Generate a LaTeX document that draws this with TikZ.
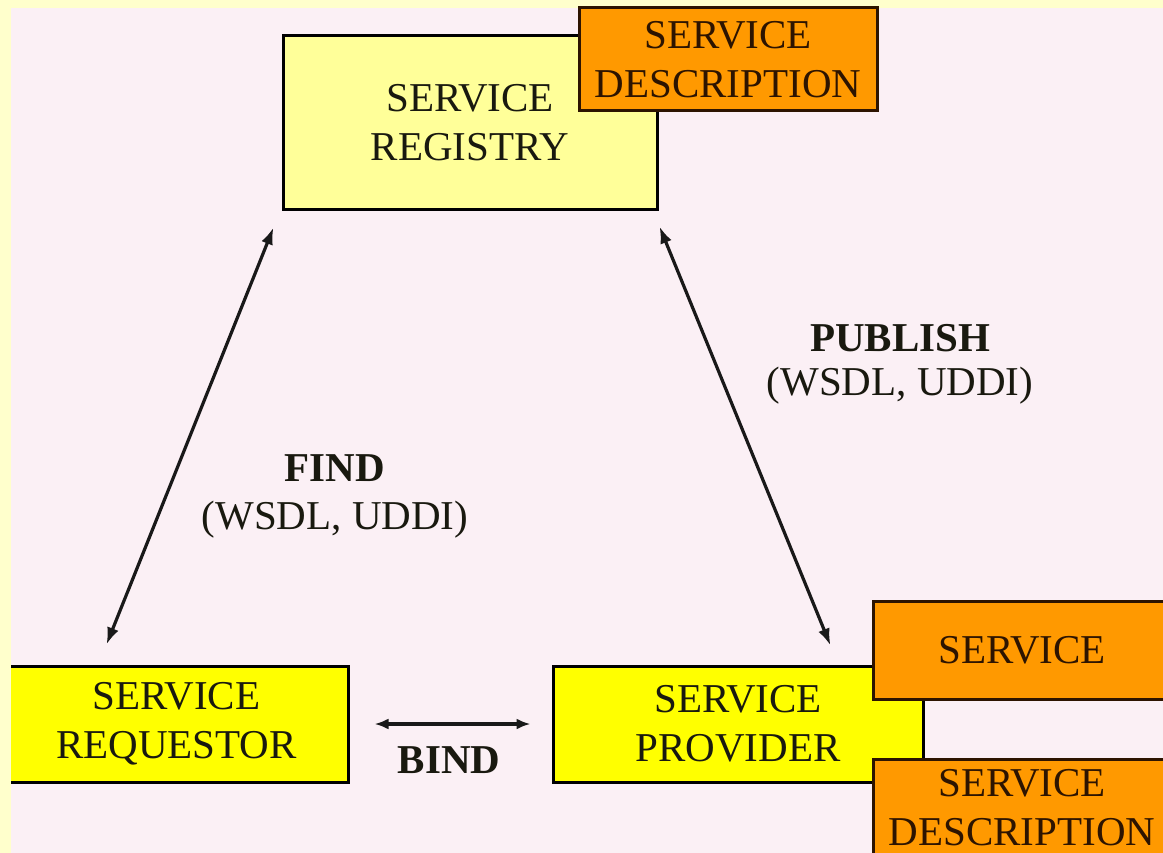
\documentclass[tikz,border=0pt]{standalone}
\usepackage{fontspec}
\setmainfont{Liberation Serif}
\usetikzlibrary{arrows.meta}
\definecolor{bgpink}{RGB}{251,240,245}
\definecolor{stripyel}{RGB}{255,255,204}
\definecolor{regfill}{RGB}{255,255,153}
\definecolor{yel}{RGB}{255,255,0}
\definecolor{orng}{RGB}{255,153,0}
\definecolor{brn}{RGB}{45,20,0}
\definecolor{txt}{RGB}{25,25,15}
\begin{document}
\begin{tikzpicture}[x=1pt,y=-1pt,
  box/.style={draw=black, line width=3pt, inner sep=0pt, align=center,
    text=txt, font=\fontsize{41}{49}\selectfont},
  regbox/.style={box, fill=regfill},
  yelbox/.style={box, fill=yel},
  orbox/.style={box, fill=orng, draw=brn, text=brn},
  lbl/.style={inner sep=0pt, text=txt, font=\fontsize{41}{49}\selectfont},
  blbl/.style={lbl, font=\fontsize{41}{49}\selectfont\bfseries},
  conn/.style={line width=3.2pt, draw=black!90, {Latex[length=17pt,width=12pt]}-{Latex[length=17pt,width=12pt]}},
  bconn/.style={line width=3.2pt, draw=black!90, {Latex[length=14pt,width=11pt]}-{Latex[length=14pt,width=11pt]}}
]
\useasboundingbox (0,0) rectangle (1163,853);
\clip (0,0) rectangle (1163,853);
\fill[stripyel] (0,0) rectangle (1163,853);
\fill[bgpink] (11,8) rectangle (1163,853);

% boxes
\node[regbox, minimum width=374pt, minimum height=174pt] (reg) at (470,123) {SERVICE\\REGISTRY};
\node[orbox, minimum width=298pt, minimum height=103pt] (regdesc) at (728,59.5) {SERVICE\\DESCRIPTION};
\node[yelbox, minimum width=343pt, minimum height=116pt] (req) at (176.5,724) {SERVICE\\REQUESTOR};
\node[yelbox, minimum width=370pt, minimum height=116pt] (prov) at (738,724) {SERVICE\\PROVIDER};
\node[orbox, minimum width=298pt, minimum height=98pt] (serv) at (1022,650) {SERVICE};
\node[orbox, minimum width=298pt, minimum height=98pt] (provdesc) at (1022,808) {SERVICE\\DESCRIPTION};

% left strip over the requestor's left edge
\fill[stripyel] (0,0) rectangle (11,853);

% connectors
\coordinate (fa) at ([shift={(-8,16)}]reg.south west);
\coordinate (fb) at ([shift={(103,-20)}]req.north west);
\coordinate (pa) at ([shift={(1,15)}]reg.south east);
\coordinate (pb) at ([shift={(-94,-19)}]prov.north east);
\coordinate (ba) at ([shift={(25,0)}]req.east);
\coordinate (bb) at ([shift={(-21,0)}]prov.west);
\draw[conn] (fa) -- (fb);
\draw[conn] (pa) -- (pb);
\draw[bconn] (ba) -- (bb);

% labels
\node[blbl] (findl) at (335,468) {FIND};
\node[lbl] (findp) at (335,520) {(WSDL, UDDI)};
\node[blbl] (publ) at (900,338) {PUBLISH};
\node[lbl] (pubp) at (900,386) {(WSDL, UDDI)};
\node[blbl] (bindl) at (449,760) {BIND};
\end{tikzpicture}
\end{document}
